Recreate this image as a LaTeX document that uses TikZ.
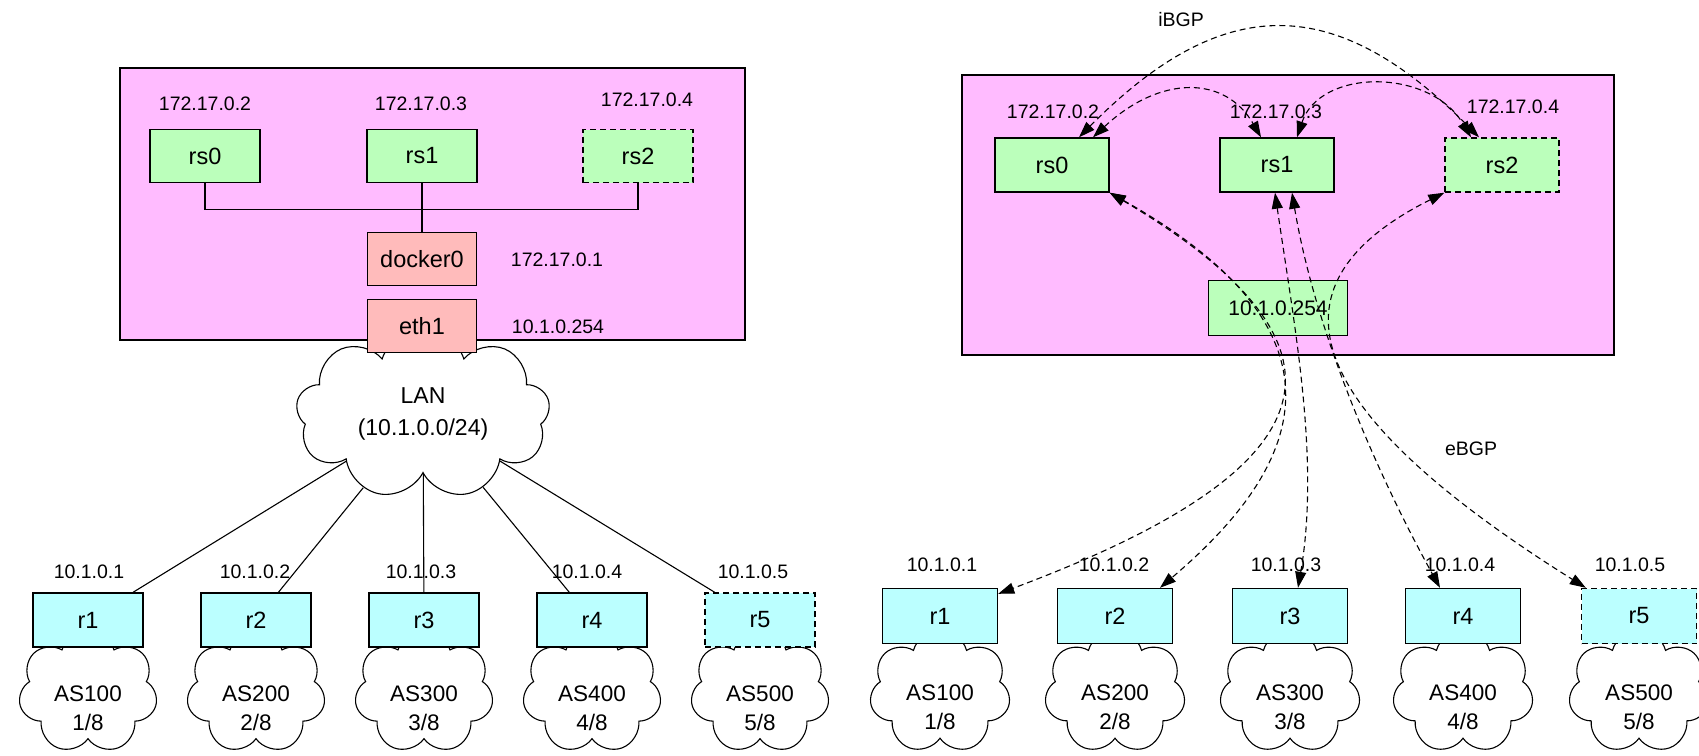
\documentclass[tikz,border=0pt]{standalone}
\usepackage{fontspec}
\setmainfont{Liberation Sans}
\usetikzlibrary{shapes.symbols,arrows.meta}
\definecolor{pinkbg}{RGB}{255,187,255}
\definecolor{rsgreen}{RGB}{187,255,187}
\definecolor{ifred}{RGB}{255,187,187}
\definecolor{rcyan}{RGB}{187,255,255}
\tikzset{
  txt/.style={font=\fontsize{19.5}{23}\selectfont, inner sep=0pt, align=center},
  panel/.style={draw, line width=1.5pt, fill=pinkbg, inner sep=0pt, anchor=north west},
  boxbase/.style={draw, line width=1.4pt, inner sep=0pt, font=\fontsize{23.5}{26}\selectfont},
  rsbox/.style={boxbase, fill=rsgreen, minimum width=110pt, minimum height=53pt},
  rsboxR/.style={boxbase, fill=rsgreen, minimum width=114pt, minimum height=54pt},
  ifbox/.style={boxbase, fill=ifred, minimum width=109pt, minimum height=53pt},
  rbox/.style={boxbase, fill=rcyan, minimum width=110pt, minimum height=54pt},
  rboxR/.style={boxbase, fill=rcyan, minimum width=115pt, minimum height=55pt},
  dashbox/.style={dash pattern=on 6pt off 4pt},
  ascloud/.style={cloud, cloud puffs=7, cloud puff arc=150, cloud ignores aspect, draw, line width=1.1pt, fill=white, inner sep=0pt, minimum width=139pt, minimum height=124pt},
  astxt/.style={font=\fontsize{22.5}{29}\selectfont, inner sep=0pt, align=center},
  link/.style={line width=1.1pt},
  bgp/.style={line width=1.1pt, dash pattern=on 6pt off 4pt, {Triangle[length=16pt,width=11pt]}-{Triangle[length=16pt,width=11pt]}}
}
\begin{document}
\begin{tikzpicture}[x=1pt,y=-1pt]
\useasboundingbox (0,0) rectangle (1699,755);
\fill[white] (0,0) rectangle (1699,755);

% ================= LEFT PANEL =================
\node[panel, minimum width=625pt, minimum height=272pt] (lpanel) at (119,67) {};
\node[rsbox] (lrs0) at (205,156) {rs0};
\node[rsbox] (lrs1) at (422,156) {rs1};
\node[rsbox, dashbox] (lrs2) at (638,156) {rs2};
\node[txt] (llab0) at (205,104) {172.17.0.2};
\node[txt] (llab1) at (421,104) {172.17.0.3};
\node[txt] (llab2) at (647,100) {172.17.0.4};
\node[ifbox] (docker) at (422,259) {docker0};
\node[txt] (ldock) at (557,260) {172.17.0.1};
\draw[link] (lrs0.south) -- ++(0,26) coordinate (bus0) -| (lrs2.south);
\draw[link] (lrs1.south) -- (docker.north);

\node[cloud, cloud puffs=9, cloud puff arc=145, cloud ignores aspect, draw, line width=1.1pt, fill=white, inner sep=0pt,
      minimum width=254pt, minimum height=170pt, align=center,
      font=\fontsize{23}{32}\selectfont] (lan) at (423,414) {LAN\\(10.1.0.0/24)};
\node[ifbox] (eth) at (422,326) {eth1};
\node[txt] (leth) at (558,327) {10.1.0.254};

% left AS clouds
\foreach \i/\x/\as in {1/88/100, 2/256/200, 3/424/300, 4/592/400, 5/760/500} {
  \node[ascloud] (lc\i) at (\x,692) {};
  \node[astxt] (lt\i) at (\x,708) {AS\as\\\i/8};
}
\node[rbox] (lr1) at (88,620) {r1};
\node[rbox] (lr2) at (256,620) {r2};
\node[rbox] (lr3) at (424,620) {r3};
\node[rbox] (lr4) at (592,620) {r4};
\node[rbox, dashbox] (lr5) at (760,620) {r5};
\node[txt] (lrl1) at (89,572) {10.1.0.1};
\node[txt] (lrl2) at (255,572) {10.1.0.2};
\node[txt] (lrl3) at (421,572) {10.1.0.3};
\node[txt] (lrl4) at (587,572) {10.1.0.4};
\node[txt] (lrl5) at (753,572) {10.1.0.5};
\foreach \i in {1,...,5} { \draw[link] (lr\i) -- (lan); }

% ================= RIGHT PANEL =================
\node[panel, minimum width=652pt, minimum height=280pt] (rpanel) at (961,74) {};
\node[rsboxR] (rrs0) at (1052,165) {rs0};
\node[rsboxR] (rrs1) at (1277,165) {rs1};
\node[rsboxR, dashbox] (rrs2) at (1502,165) {rs2};
\node[txt] (rlab0) at (1053,112) {172.17.0.2};
\node[txt] (rlab1) at (1276,112) {172.17.0.3};
\node[txt] (rlab2) at (1513,107) {172.17.0.4};
\node[boxbase, fill=rsgreen, minimum width=139pt, minimum height=55pt, font=\fontsize{21}{24}\selectfont] (rs) at (1278,308) {10.1.0.254};
\node[txt] (ibgp) at (1181,20) {iBGP};
\node[txt] (ebgp) at (1471,449) {eBGP};

\foreach \i/\x/\as in {1/940/100, 2/1115/200, 3/1290/300, 4/1463/400, 5/1639/500} {
  \node[ascloud, minimum width=141pt] (rc\i) at (\x,692) {};
  \node[astxt] (rt\i) at (\x,707) {AS\as\\\i/8};
}
\node[rboxR] (rr1) at (940,616) {r1};
\node[rboxR] (rr2) at (1115,616) {r2};
\node[rboxR] (rr3) at (1290,616) {r3};
\node[rboxR] (rr4) at (1463,616) {r4};
\node[rboxR, dashbox] (rr5) at (1639,616) {r5};
\node[txt] (rrl1) at (942,565) {10.1.0.1};
\node[txt] (rrl2) at (1114,565) {10.1.0.2};
\node[txt] (rrl3) at (1286,565) {10.1.0.3};
\node[txt] (rrl4) at (1460,565) {10.1.0.4};
\node[txt] (rrl5) at (1630,565) {10.1.0.5};

% iBGP sessions
\draw[bgp] ([xshift=27pt]rrs0.north) .. controls (1223,-8) and (1335,-8) .. ([xshift=-23pt]rrs2.north);
\draw[bgp] ([xshift=41pt]rrs0.north) .. controls (1160,75) and (1225,75) .. ([xshift=-16pt]rrs1.north);
\draw[bgp] ([xshift=20pt]rrs1.north) .. controls (1320,68) and (1430,68) .. ([xshift=-31pt]rrs2.north);

% eBGP sessions
\draw[bgp] (rrs0.south east) .. controls (1375,350) and (1330,470) .. ([yshift=-6pt]rr1.north east);
\draw[bgp] (rrs0.south east) .. controls (1390,350) and (1270,494) .. ([xshift=45pt]rr2.north);
\draw[bgp] ([xshift=-2pt]rrs1.south) .. controls (1295,330) and (1320,460) .. ([xshift=8pt]rr3.north);
\draw[bgp] ([xshift=15pt]rrs1.south) .. controls (1315,330) and (1375,470) .. ([xshift=-23pt]rr4.north);
\draw[bgp] (rrs2.south west) .. controls (1230,300) and (1350,440) .. ([xshift=5pt]rr5.north west);
\end{tikzpicture}
\end{document}
